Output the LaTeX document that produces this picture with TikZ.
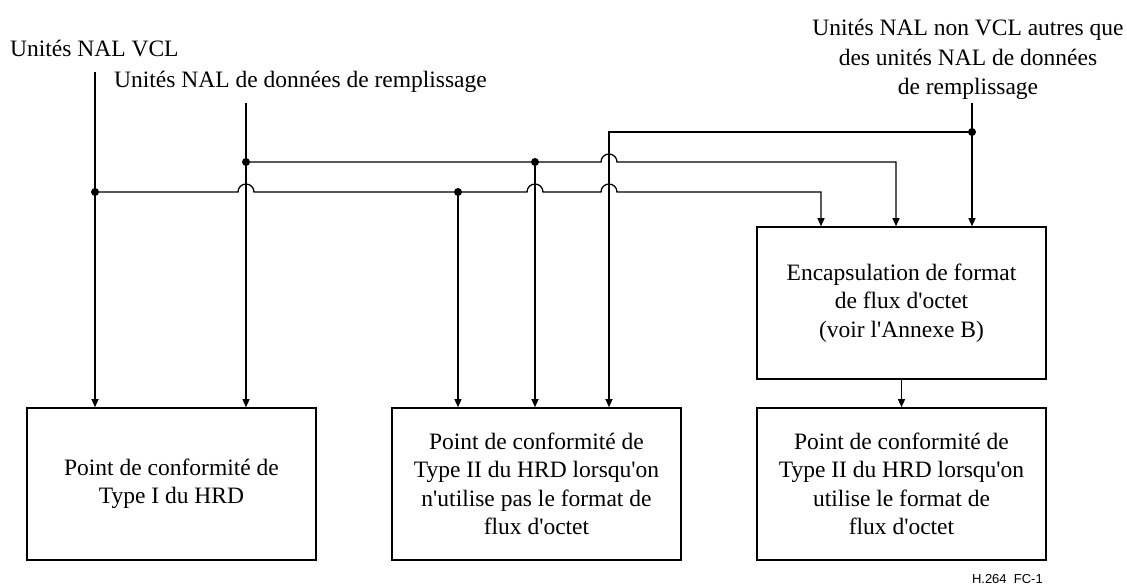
\documentclass[tikz,border=0pt]{standalone}
\usepackage{fontspec}
\newfontfamily\figserif{Liberation Serif}
\newfontfamily\figsans{Liberation Sans}
\usetikzlibrary{arrows.meta}
\begin{document}
\begin{tikzpicture}[x=1pt,y=-1pt,
  wire/.style={line width=1.3pt},
  flow/.style={wire,-{Triangle[length=8pt,width=7pt]}},
  box/.style={draw,line width=1.6pt,minimum width=289pt,minimum height=152pt,
    inner sep=0pt,align=center,font=\figserif\fontsize{23.5}{28.5}\selectfont},
  lbl/.style={inner sep=0pt,font=\figserif\fontsize{23.5}{29.5}\selectfont}]
\useasboundingbox (0,0) rectangle (1127,585);

% processing blocks
\node[box] (b1) at (171.5,484) {Point de conformité de\\Type I du HRD};
\node[box] (b2) at (536.5,484) {Point de conformité de\\Type II du HRD lorsqu'on\\n'utilise pas le format de\\flux d'octet};
\node[box] (b3) at (901.5,484) {Point de conformité de\\Type II du HRD lorsqu'on\\utilise le format de\\flux d'octet};
\node[box] (enc) at (901.5,303) {Encapsulation de format\\de flux d'octet\\(voir l'Annexe B)};

% input labels
\node[lbl,anchor=base west] (vcl) at (10,57) {Unités NAL VCL};
\node[lbl,anchor=base west] (fill) at (114,88) {Unités NAL de données de remplissage};
\node[lbl,anchor=north,align=center] (nonvcl) at (968,19) {Unités NAL non VCL autres que\\des unités NAL de données\\de remplissage};

% line origins and junctions
\coordinate (vt) at (95,72);
\coordinate (ft) at (246,103);
\coordinate (nt) at (972,103);
\coordinate (jV) at (95,192);
\coordinate (jF) at (246,162);
\coordinate (jV2) at (458,192);
\coordinate (jF2) at (535,162);
\coordinate (jN) at (972,132);
\coordinate (tc) at (609,132);
\coordinate (eV) at (821,192);
\coordinate (eF) at (896,162);

% main feeds
\draw[flow] (vt) -- (vt |- b1.north);
\draw[flow] (ft) -- (ft |- b1.north);
\draw[flow] (nt) -- (nt |- enc.north);

% VCL bus with hops over the crossing verticals
\draw[flow] (jV) -- (238,192) arc[start angle=180,end angle=0,radius=8pt]
  -- (527,192) arc[start angle=180,end angle=0,radius=8pt]
  -- (601,192) arc[start angle=180,end angle=0,radius=8pt]
  -- (eV) -- (eV |- enc.north);

% filler bus
\draw[flow] (jF) -- (601,162) arc[start angle=180,end angle=0,radius=8pt]
  -- (eF) -- (eF |- enc.north);

% non-VCL bus
\draw[flow] (jN) -- (tc) -- (tc |- b2.north);

% branches into the type II block
\draw[flow] (jV2) -- (jV2 |- b2.north);
\draw[flow] (jF2) -- (jF2 |- b2.north);

% encapsulation output
\draw[flow] (enc.south) -- (b3.north);

% junction dots
\foreach \p in {jV,jF,jV2,jF2,jN}
  \fill (\p) circle[radius=4pt];

% figure tag
\node[inner sep=0pt,anchor=base east,font=\figsans\fontsize{13}{15}\selectfont] (tag) at (1043,583) {H.264\ \ FC-1};
\end{tikzpicture}
\end{document}
